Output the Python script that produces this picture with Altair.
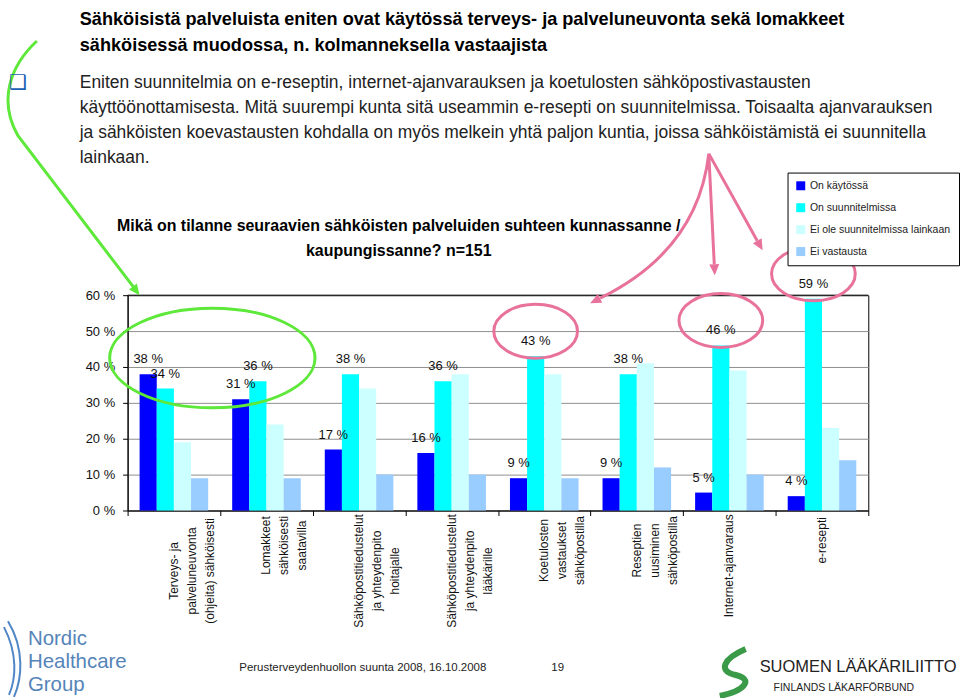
import altair as alt
import pandas as pd

# ---------------- data ----------------
categories = [
    "Terveys- ja\npalveluneuvonta\n(ohjeita) sähköisesti",
    "Lomakkeet\nsähköisesti\nsaatavilla",
    "Sähköpostitiedustelut\nja yhteydenpito\nhoitajalle",
    "Sähköpostitiedustelut\nja yhteydenpito\nlääkärille",
    "Koetulosten\nvastaukset\nsähköpostilla",
    "Reseptien\nuusiminen\nsähköpostilla",
    "Internet-ajanvaraus",
    "e-resepti",
]
series = ["On käytössä", "On suunnitelmissa", "Ei ole suunnitelmissa lainkaan", "Ei vastausta"]
on_kaytossa = [38, 31, 17, 16, 9, 9, 5, 4]
on_suunnitelmissa = [34, 36, 38, 36, 43, 38, 46, 59]
ei_suunnitelmissa_lainkaan = [19, 24, 34, 38, 38, 41, 39, 23]
ei_vastausta = [9, 9, 10, 10, 9, 12, 10, 14]
y_ticks = [0, 10, 20, 30, 40, 50, 60]
labelled_series = ["On käytössä", "On suunnitelmissa"]
highlighted_categories = ["Koetulosten\nvastaukset\nsähköpostilla", "Internet-ajanvaraus", "e-resepti"]

title_lines = [
    "Sähköisistä palveluista eniten ovat käytössä terveys- ja palveluneuvonta sekä lomakkeet",
    "sähköisessä muodossa, n. kolmanneksella vastaajista",
]
bullet_lines = [
    "Eniten suunnitelmia on e-reseptin, internet-ajanvarauksen ja koetulosten sähköpostivastausten",
    "käyttöönottamisesta. Mitä suurempi kunta sitä useammin e-resepti on suunnitelmissa. Toisaalta ajanvarauksen",
    "ja sähköisten koevastausten kohdalla on myös melkein yhtä paljon kuntia, joissa sähköistämistä ei suunnitella",
    "lainkaan.",
]
chart_title_lines = [
    "Mikä on tilanne seuraavien sähköisten palveluiden suhteen kunnassanne /",
    "kaupungissanne? n=151",
]
footer_text = "Perusterveydenhuollon suunta 2008, 16.10.2008"
page_number = "19"
nhg_lines = ["Nordic", "Healthcare", "Group"]
sll_lines = ["SUOMEN LÄÄKÄRILIITTO", "FINLANDS LÄKARFÖRBUND"]

colors = ["#0000FF", "#00FFFF", "#CCFFFF", "#99CCFF"]

# ---------------- styling ----------------
FONT = "Liberation Sans, Arial, sans-serif"
W, H = 743, 216
GREEN = "#5ee83a"
PINK = "#e8729b"

rows = []
for s, vals in zip(series, [on_kaytossa, on_suunnitelmissa, ei_suunnitelmissa_lainkaan, ei_vastausta]):
    for c, v in zip(categories, vals):
        rows.append({"cat": c, "series": s, "value": v})
df = pd.DataFrame(rows)
cat_df = pd.DataFrame({
    "cat": categories,
    "maxlen": [max(len(l) for l in c.split("\n")) for c in categories],
})

Y_SCALE = alt.Scale(domain=[0, 60], nice=False, zero=True)
x_axis = alt.Axis(labels=False, title=None, tickBand="extent", tickSize=5,
                  domainColor="black", tickColor="black", grid=False)
y_axis = alt.Axis(values=y_ticks, labelExpr="datum.value + ' %'", title=None, grid=True,
                  gridColor="#8f8f8f", tickSize=5, tickColor="black", domainColor="black",
                  labelFontSize=13, labelFont=FONT, labelColor="#111", labelPadding=8,
                  labelOverlap=False)

def X():
    return alt.X("cat:N", sort=categories, title=None,
                 scale=alt.Scale(paddingInner=0, paddingOuter=0), axis=x_axis)

def XO():
    return alt.XOffset("series:N", sort=series,
                       scale=alt.Scale(paddingInner=0, paddingOuter=0.7))

def Y(field):
    return alt.Y(field, scale=Y_SCALE, axis=y_axis, title=None)

blank = alt.Data(values=[{}])

# invisible frame that fixes the page extent (960 x 698)
frame = alt.Chart(blank).mark_rect(fill="white", opacity=0).encode(
    x=alt.value(-128), x2=alt.value(832), y=alt.value(-295), y2=alt.value(403))

bars = alt.Chart(df).mark_bar().encode(
    x=X(), xOffset=XO(),
    y=Y("value:Q"),
    color=alt.Color("series:N", sort=series,
                    scale=alt.Scale(domain=series, range=colors),
                    legend=alt.Legend(title=None, orient="none", legendX=662, legendY=-123,
                                      direction="vertical", symbolType="square", symbolSize=81,
                                      symbolStrokeWidth=0, symbolOpacity=1, labelFontSize=10.5,
                                      labelFont=FONT, labelColor="#222", rowPadding=11,
                                      padding=8, strokeColor="black", fillColor="white",
                                      labelOffset=4)),
)

top_rule = alt.Chart(blank).mark_rule(color="black", strokeWidth=1).encode(
    x=alt.value(0), x2=alt.value(W), y=alt.value(0))

value_labels = alt.Chart(df).transform_filter(
    alt.FieldOneOfPredicate(field="series", oneOf=labelled_series)
).transform_calculate(label="datum.value + ' %'").mark_text(
    dy=-11, baseline="alphabetic", fontSize=13, font=FONT, color="#111"
).encode(
    x=X(), xOffset=XO(),
    y=Y("value:Q"),
    text=alt.Text("label:N"),
)

cat_labels = alt.Chart(cat_df).transform_calculate(
    ly="60 - (223 + datum.maxlen * 2.55) / 3.6"
).mark_text(angle=270, align="center", baseline="middle", lineBreak="\n", lineHeight=18,
            fontSize=12, font=FONT, color="#111").encode(
    x=X(),
    y=Y("ly:Q"),
    text=alt.Text("cat:N"),
)

ellipse_path = "M -42 -25 A 42 27 0 1 0 42 -25 A 42 27 0 1 0 -42 -25 Z"
ellipses = alt.Chart(df).transform_filter(
    (alt.datum.series == "On suunnitelmissa")
).transform_filter(
    alt.FieldOneOfPredicate(field="cat", oneOf=highlighted_categories)
).mark_point(shape=ellipse_path, size=4, filled=False, strokeWidth=3, color=PINK, opacity=1).encode(
    x=X(), xOffset=XO(), y=Y("value:Q"))


def path_mark(path, stroke=None, fill=None, width=3):
    kw = dict(shape=path, size=4, opacity=1)
    if fill:
        kw.update(filled=True, fill=fill, strokeWidth=0)
    else:
        kw.update(filled=False, stroke=stroke, strokeWidth=width)
    return alt.Chart(blank).mark_point(**kw).encode(x=alt.value(0), y=alt.value(0))

annotations = [
    path_mark("M -91 -255 C -118 -230 -130 -195 -110 -160 L 6 -8", stroke=GREEN),
    path_mark("M -18 63 A 103 50 0 1 0 188 63 A 103 50 0 1 0 -18 63 Z", stroke=GREEN),
    path_mark("M 12 0 L 1.35 -5.72 L 9.31 -11.78 Z", fill=GREEN),
    path_mark("M 583 -142 Q 572 -45 474 3 M 583 -142 L 588.5 -31 M 583 -142 L 631.6 -54.6", stroke=PINK),
    path_mark("M 464 8 L 471.7 -1.3 L 476.1 7.6 Z M 589 -20 L 583.5 -30.7 L 593.5 -31.2 Z "
              "M 637 -45 L 627.3 -52.2 L 636 -57 Z", fill=PINK),
    # logo marks
    path_mark("M -120 327 C -103 355 -106 385 -114 403 M -124 333 C -110 360 -112 385 -119 401",
              stroke="#4f86c6", width=2),
    path_mark("M 620 355 C 597 365 592 377 610 381 C 628 385 620 397 594 402",
              stroke="#3a9a48", width=6),
]


def text_mark(text, x, y, size, font=FONT, weight="normal", color="#111", align="left",
              baseline="alphabetic"):
    return alt.Chart(blank).mark_text(fontSize=size, font=font, fontWeight=weight, color=color,
                                      align=align, baseline=baseline).encode(
        x=alt.value(x), y=alt.value(y), text=alt.value(text))

texts = []
for i, t in enumerate(title_lines):
    texts.append(text_mark(t, -48, -271 + 26 * i, 18.2, weight="bold", color="#000"))
texts.append(text_mark("❑", -110, -213, 20, font="DejaVu Sans", color="#1a5fb4",
                       align="center", baseline="middle"))
for i, t in enumerate(bullet_lines):
    texts.append(text_mark(t, -48, -208 + 25 * i, 17.5, color="#222"))
for i, t in enumerate(chart_title_lines):
    texts.append(text_mark(t, 272, -64 + 25 * i, 16, weight="bold", color="#000",
                           align="center"))
texts.append(text_mark(footer_text, 112, 377, 11.5, color="#222"))
texts.append(text_mark(page_number, 425, 377, 11.5, color="#222"))
for i, t in enumerate(nhg_lines):
    texts.append(text_mark(t, -100, 351 + 23 * i, 20.5, color="#5584b8"))
texts.append(text_mark(sll_lines[0], 634, 378, 16.5, color="#222"))
texts.append(text_mark(sll_lines[1], 648, 397, 10.5, color="#222"))

chart = alt.layer(frame, bars, top_rule, value_labels, cat_labels, ellipses, *annotations, *texts).properties(
    width=W, height=H, padding=0, background="white"
).configure_view(stroke="black", strokeWidth=1)

chart.save("out.html", embed_options={"renderer": "svg", "actions": False})
